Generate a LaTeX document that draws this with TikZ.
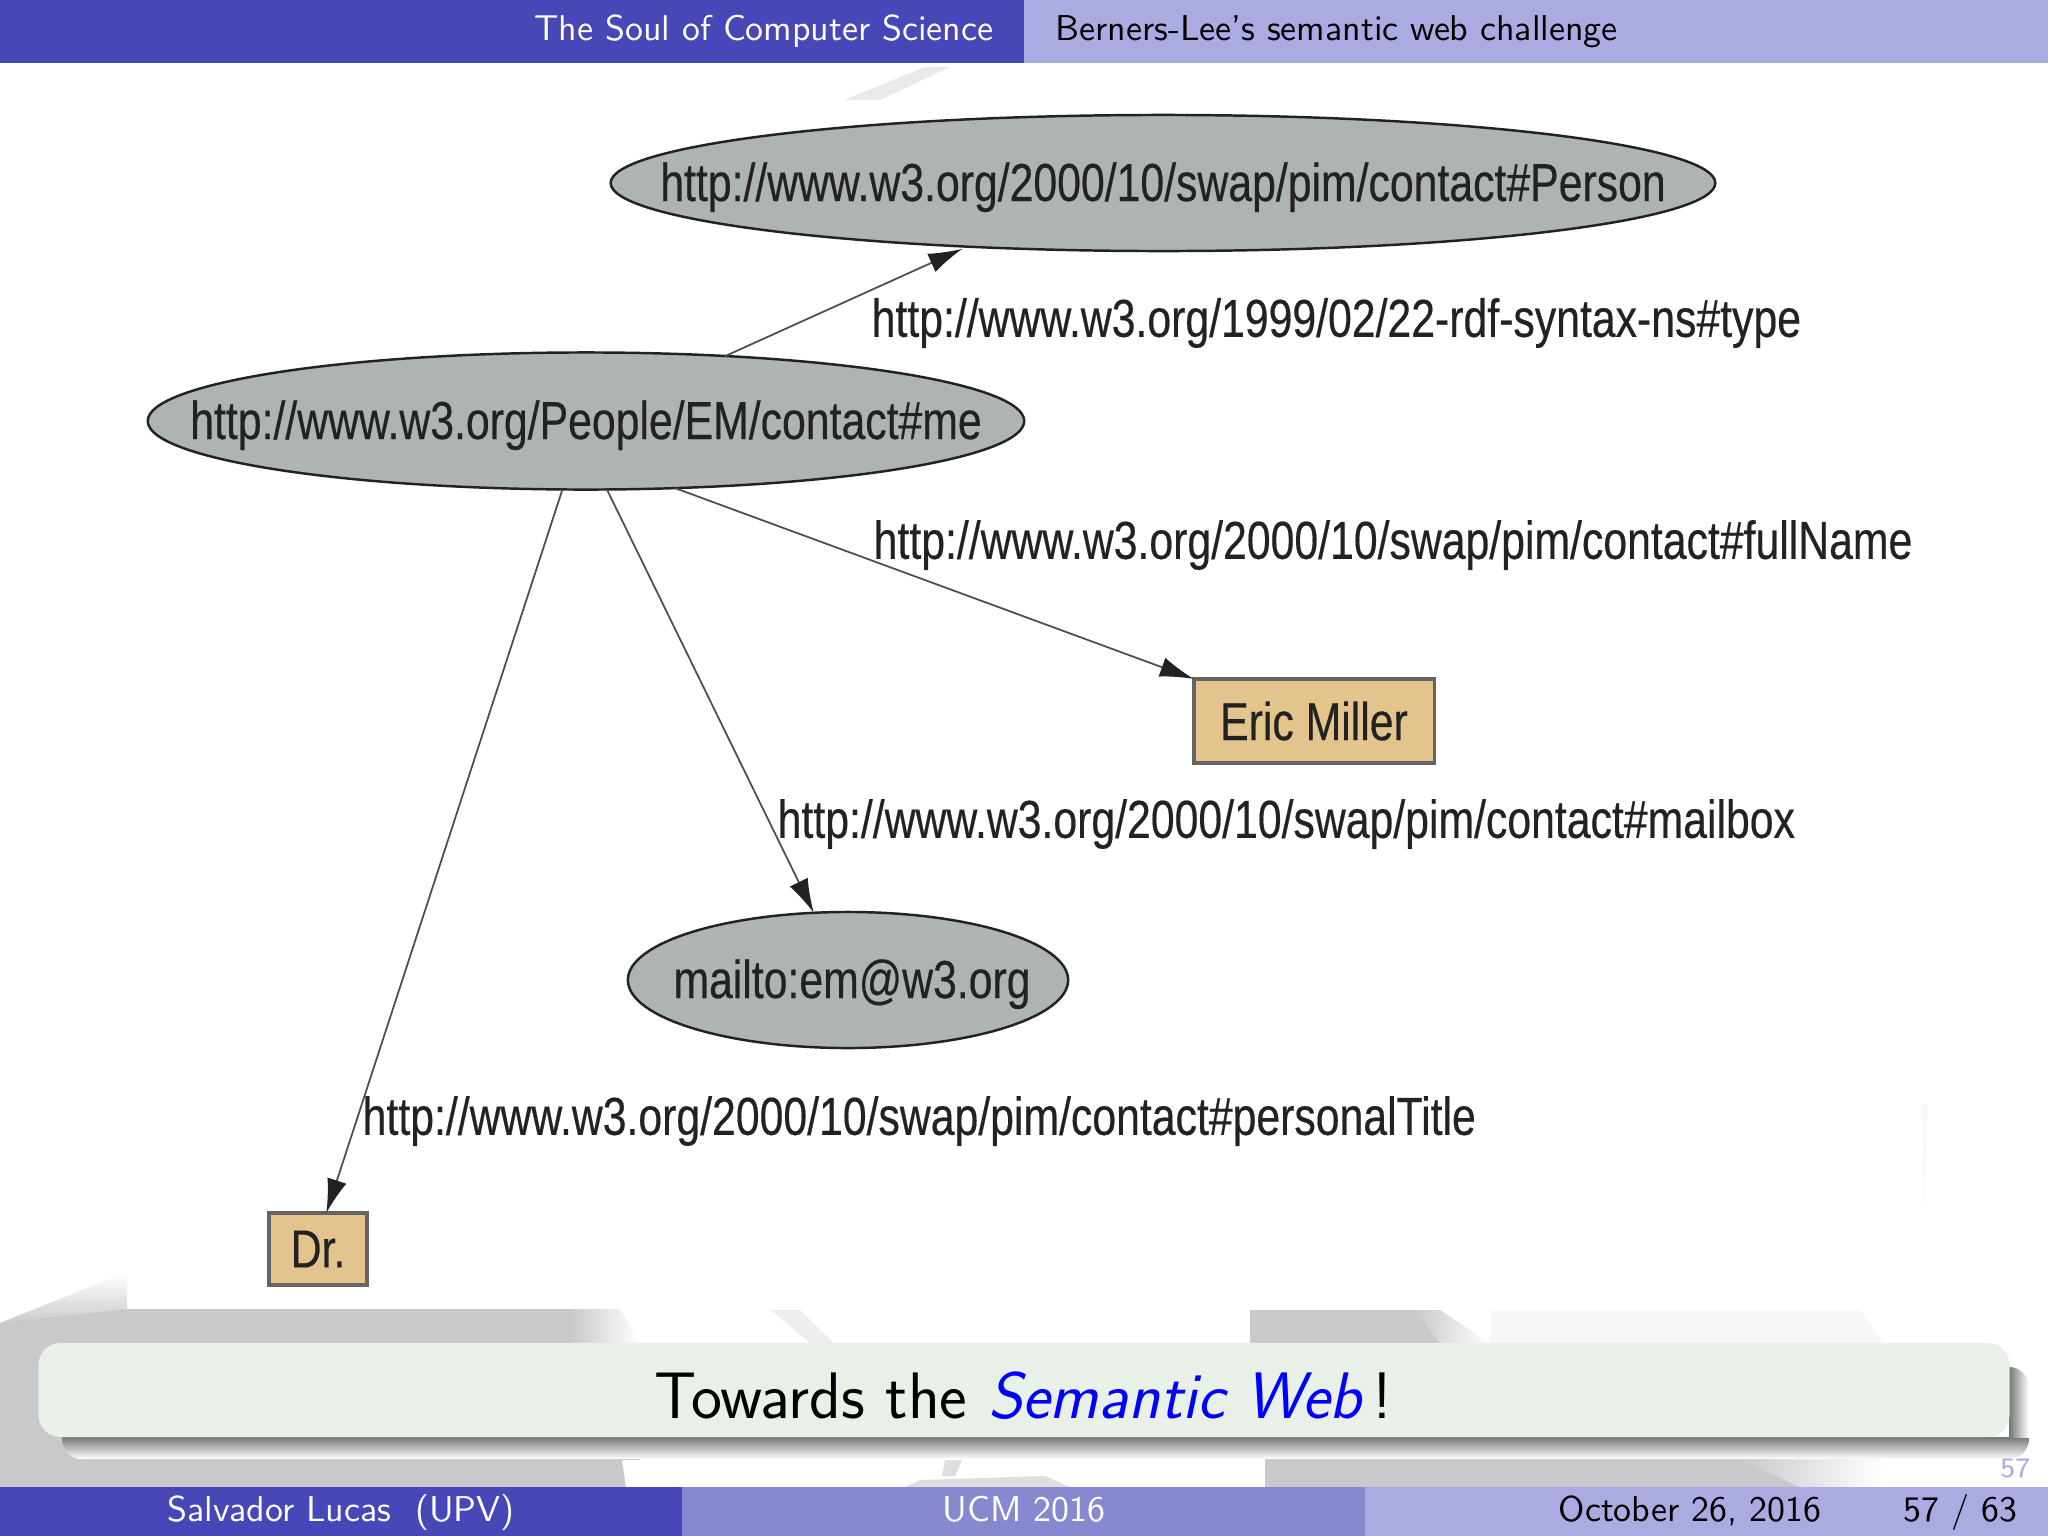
\documentclass[tikz,border=0pt]{standalone}
\usepackage{fontspec}
\usetikzlibrary{arrows.meta, shapes.geometric}
\newfontfamily\figfont[FakeStretch=0.80, FakeBold=0.35]{Liberation Sans}

\definecolor{bardark}{HTML}{4747B8}
\definecolor{barmid}{HTML}{8888D0}
\definecolor{barlight}{HTML}{ABABE1}
\definecolor{patch}{HTML}{C9C9CC}
\definecolor{noteback}{HTML}{E8F0E8}
\definecolor{resgray}{HTML}{AEB4B2}
\definecolor{litbrown}{HTML}{E2C48C}
\definecolor{figink}{HTML}{222222}

\newcommand{\figtext}[1]{\fontsize{15.2}{18}\selectfont\figfont #1}
\newcommand{\inside}[1]{\makebox[0pt][c]{\raisebox{-0.18cm}[0pt][0pt]{\figtext{#1}}}}

\tikzset{
  resource/.style = {ellipse, draw = figink, line width = 0.7pt, fill = resgray, inner sep = 0, outer sep = 0, text = figink},
  literal/.style = {rectangle, draw = figink!70, line width = 0.9pt, fill = litbrown, inner sep = 0, outer sep = 0, text = figink},
  proplabel/.style = {anchor = west, inner sep = 0, text = figink, font = \figtext},
  edge/.style = {draw = figink!80, line width = 0.5pt, -{Latex[length = 0.34cm, width = 0.2cm, color = figink]}},
  headtext/.style = {inner sep = 0, anchor = base, font = \sffamily\fontsize{10.2}{13}\selectfont},
  foottext/.style = {inner sep = 0, anchor = base, font = \sffamily\fontsize{10.2}{13}\selectfont}
}

\begin{document}
\begin{tikzpicture}[x = 0.01cm, y = -0.01cm]
  \useasboundingbox (0, 0) rectangle (2048, 1536);
  \fill [white] (0, 0) rectangle (2048, 1536);

  % what shows of the backdrop
  \fill [patch, opacity = 0.4] (844, 100) -- (925, 67) -- (950, 67) -- (880, 100) -- cycle;
  \shade [top color = white, bottom color = patch] (0, 1323) -- (127, 1272) -- (127, 1310) -- (0, 1325) -- cycle;
  \fill [patch] (0, 1323) -- (127, 1309) -- (570, 1309) -- (570, 1343)
    -- (640, 1343) -- (640, 1460) -- (622, 1460) -- (626, 1487) -- (0, 1487) -- cycle;
  \shade [left color = patch, right color = white] (570, 1309) -- (620, 1309) -- (640, 1343) -- (570, 1343) -- cycle;
  \fill [patch, opacity = 0.3] (771, 1310) -- (800, 1310) -- (834, 1343) -- (810, 1343) -- cycle;
  \fill [patch] (1250, 1310) -- (1415, 1310) -- (1440, 1343) -- (1250, 1343) -- cycle;
  \shade [left color = patch, right color = white] (1415, 1310) -- (1440, 1310) -- (1490, 1343) -- (1440, 1343) -- cycle;
  \fill [patch, opacity = 0.12] (1490, 1310) -- (1860, 1310) -- (1884, 1343) -- (1490, 1343) -- cycle;
  \fill [patch] (1265, 1459) -- (1740, 1459) -- (1800, 1487) -- (1265, 1487) -- cycle;
  \shade [left color = patch, right color = white] (1740, 1459) -- (1884, 1459) -- (1884, 1487) -- (1800, 1487) -- cycle;
  \fill [patch, opacity = 0.6] (945, 1460) -- (962, 1460) -- (955, 1476) -- (942, 1476) -- cycle;
  \fill [patch, opacity = 0.6] (905, 1487) -- (920, 1480) -- (1045, 1476) -- (1070, 1487) -- cycle;
  \fill [patch, opacity = 0.12] (1922, 1105) -- (1928, 1105) -- (1924, 1215) -- cycle;

  % note with its shadow
  \begin{scope}
    \clip [rounded corners = 0.2cm] (62, 1367) rectangle (2029, 1459);
    \fill [white] (62, 1367) rectangle (2029, 1459);
    \shade [top color = black!50!noteback, bottom color = white] (62, 1437) rectangle (2029, 1459);
    \shade [left color = black!50!noteback, right color = white] (2009, 1367) rectangle (2029, 1437);
  \end{scope}
  \node (note) [rectangle, rounded corners = 0.22cm, fill = noteback, minimum width = 19.70cm, minimum height = 0.94cm, inner sep = 0, outer sep = 0] at (1024, 1390) {};
  \node (notetext) [inner sep = 0, anchor = base, font = \sffamily\fontsize{18.7}{22}\selectfont] at (1023, 1418)
    {Towards the {\color{blue}\itshape Semantic Web}\,!};

  % top bar
  \fill [bardark] (0, 0) rectangle (1024, 63);
  \fill [barlight] (1024, 0) rectangle (2048, 63);
  \node (section) [headtext, anchor = base east, text = white] at (994, 40) {The Soul of Computer Science};
  \node (subsection) [headtext, anchor = base west, text = black] at (1055, 40) {Berners-Lee's semantic web challenge};

  % bottom bar
  \fill [bardark] (0, 1487) rectangle (682, 1536);
  \fill [barmid] (682, 1487) rectangle (1365, 1536);
  \fill [barlight] (1365, 1487) rectangle (2048, 1536);
  \node (author) [foottext, text = white] at (341, 1521) {Salvador Lucas\ \ (UPV)};
  \node (venue) [foottext, text = white] at (1024, 1521) {UCM 2016};
  \node (date) [foottext, anchor = base west] at (1558, 1521) {October 26, 2016};
  \node (pages) [foottext, anchor = base east] at (2018, 1521) {57 / 63};
  \node (framenum) [inner sep = 0, anchor = base east, text = barlight, font = \sffamily\fontsize{8}{10}\selectfont] at (2031, 1477) {57};

  % the graph
  \node (person) [resource, minimum width = 11.04cm, minimum height = 1.36cm] at (1163, 183) {\inside{http://www.w3.org/2000/10/swap/pim/contact\#Person}};
  \node (me) [resource, minimum width = 8.76cm, minimum height = 1.37cm] at (586, 421) {\inside{http://www.w3.org/People/EM/contact\#me}};
  \node (mailto) [resource, minimum width = 4.40cm, minimum height = 1.36cm] at (848, 980) {\hspace{0.08cm}\inside{mailto:em@w3.org}};
  \node (miller) [literal, minimum width = 2.40cm, minimum height = 0.84cm] at (1314, 721) {\figtext{Eric Miller}};
  \node (doctor) [literal, minimum width = 0.98cm, minimum height = 0.72cm] at (318, 1249) {\figtext{Dr.}};

  \draw [edge, shorten >= 1.5pt] (me.25) -- (person.198);
  \draw [edge] (me.323) -- (miller.north west);
  \draw [edge] (me.287) -- (mailto.117);
  \draw [edge] (me.251) -- (doctor.77);

  \node (typelabel) [proplabel] at (871, 323) {http://www.w3.org/1999/02/22-rdf-syntax-ns\#type};
  \node (namelabel) [proplabel] at (873, 545) {http://www.w3.org/2000/10/swap/pim/contact\#fullName};
  \node (boxlabel) [proplabel] at (777, 824) {http://www.w3.org/2000/10/swap/pim/contact\#mailbox};
  \node (titlelabel) [proplabel] at (362, 1121) {http://www.w3.org/2000/10/swap/pim/contact\#personalTitle};
\end{tikzpicture}
\end{document}
